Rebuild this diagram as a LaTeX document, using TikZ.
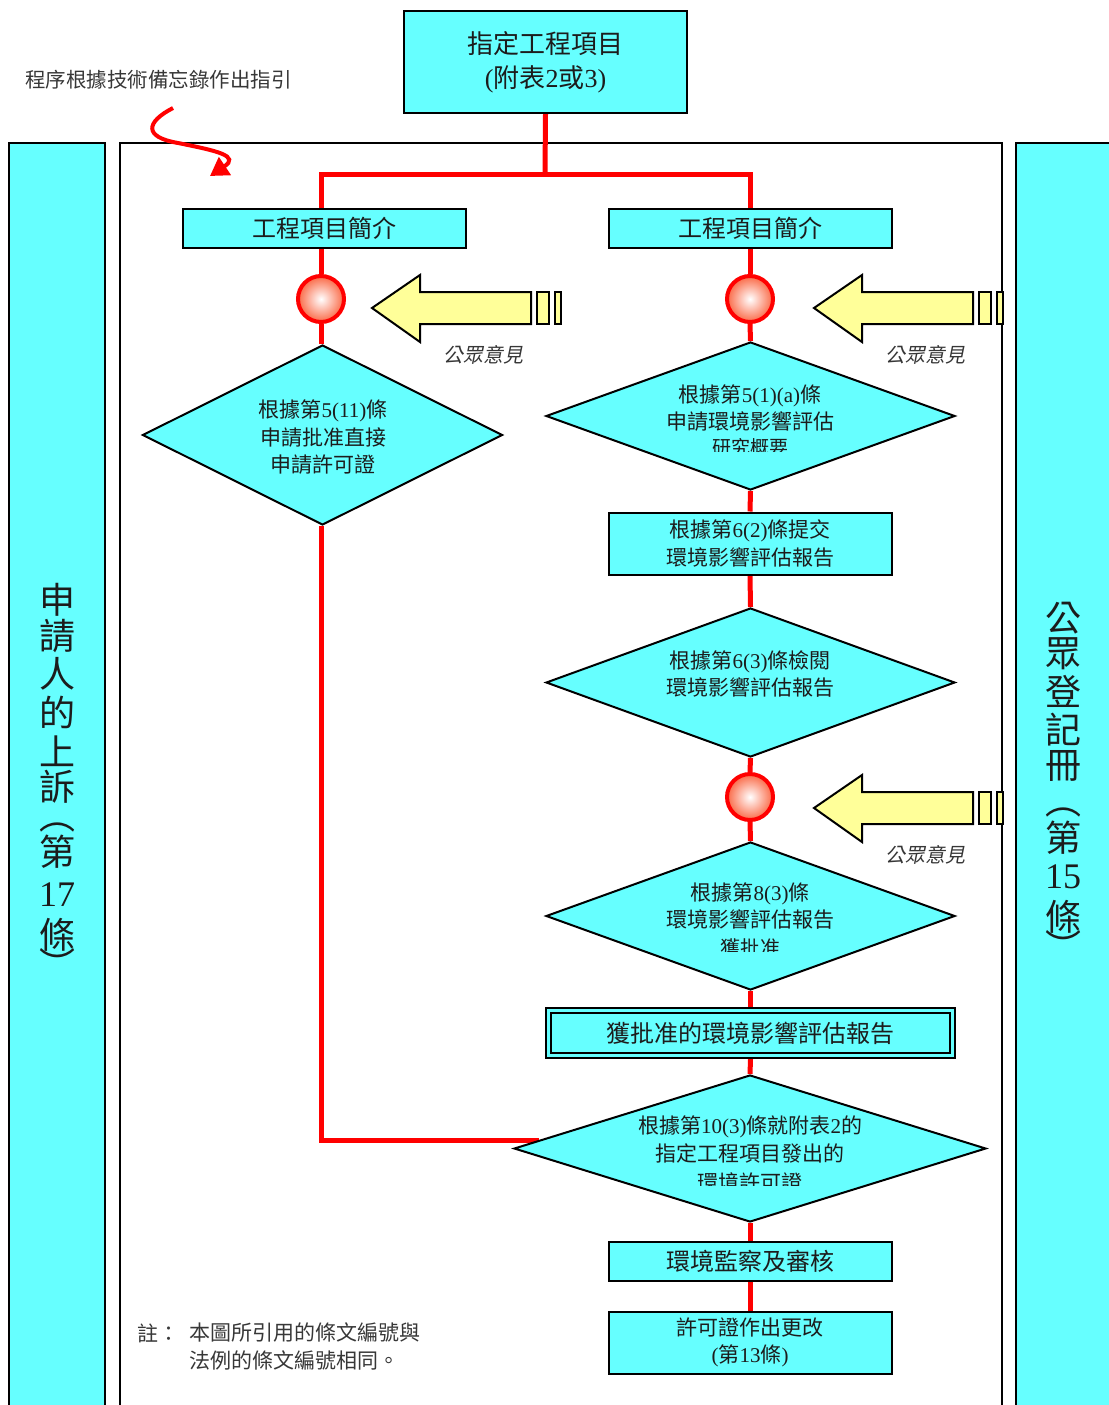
\documentclass[tikz,border=0pt]{standalone}
\usepackage{fontspec}
\usetikzlibrary{shapes.geometric,calc,arrows.meta}
\newfontfamily\cjk{Noto Sans CJK TC}
\newfontfamily\cjkslant[FakeSlant=0.2]{Noto Sans CJK TC}
\newfontfamily\ltnfont{Liberation Serif}
\newcommand\ltn[1]{{\ltnfont #1}}
\newcommand\fsz[2]{\fontsize{#1}{#2}\selectfont}
\definecolor{boxcyan}{RGB}{102,255,255}
\definecolor{arrowyellow}{RGB}{255,255,153}
\definecolor{ink}{RGB}{28,28,28}
\definecolor{softink}{RGB}{55,55,55}
\definecolor{bulbedge}{RGB}{250,105,70}
\pgfdeclarelayer{bg}
\pgfsetlayers{bg,main}
\tikzset{
  box/.style={draw=black, line width=2pt, fill=boxcyan, rectangle, inner sep=0pt,
    text=ink, align=center, font=\cjk\fsz{21}{27.5}},
  dia/.style={draw=black, line width=2pt, fill=boxcyan, diamond, inner sep=0pt},
  bulb/.style={circle, draw=red, line width=4pt, minimum size=46pt, inner sep=0pt,
    shading=radial, inner color=white, outer color=bulbedge},
  flow/.style={draw=red, line width=5pt, line join=miter},
  txt/.style={text=ink, align=center, inner sep=0pt, font=\cjk\fsz{21}{27.5}},
  sidechar/.style={text=ink, inner sep=0pt, font=\cjk\fsz{36}{36}},
  pics/inputarrow/.style={code={
    \draw[fill=arrowyellow, line width=2pt, line join=miter]
      (0,0) -- (48,-33) -- (48,-16) -- (159,-16) -- (159,16) -- (48,16) -- (48,34) -- cycle;
    \draw[fill=arrowyellow, line width=2pt] (165,-16) rectangle (177,16);
    \draw[fill=arrowyellow, line width=2pt] (183,-16) rectangle (189,16);
  }}
}
\begin{document}
\begin{tikzpicture}[x=1pt,y=-1pt]
\useasboundingbox (0,0) rectangle (1108,1405);
\clip (0,0) rectangle (1108,1405);

% side bars and main frame, kept beneath the flow lines
\begin{pgfonlayer}{bg}
  \draw[fill=boxcyan, line width=2pt] (9,143) rectangle (105,1425);
  \draw[fill=boxcyan, line width=2pt] (1016,143) rectangle (1125,1425);
  \draw[fill=white, line width=2.5pt] (120,143) rectangle (1002,1425);
\end{pgfonlayer}

% vertical titles
\foreach \ch/\yy in {申/600,請/636,人/674,的/712,上/751,訴/787,︵/827,第/852,條/935,︶/963}
  \node[sidechar] at (57,\yy) {\ch};
\node[sidechar, font=\ltnfont\fsz{36}{36}] at (57,895) {17};
\foreach \ch/\yy in {公/618,眾/654,登/691,記/730,冊/766,︵/812,第/838,條/917,︶/945}
  \node[sidechar] at (1063,\yy) {\ch};
\node[sidechar, font=\ltnfont\fsz{36}{36}] at (1063,877) {15};

% guidance note and its curled arrow
\node[anchor=west, text=softink, inner sep=0pt, font=\cjk\fsz{20.5}{24}] (guide) at (25,80) {程序根據技術備忘錄作出指引};
\coordinate (curlstart) at (173,108);
\coordinate (curlend) at (210,176);
\draw[red, line width=4pt, -{Triangle[length=18pt,width=21pt]}]
  (curlstart) .. controls (146,122) and (143,137) .. (178,143)
  .. controls (218,151) and (240,156) .. (curlend);

% process nodes
\node[box, minimum width=283, minimum height=102, font=\cjk\fsz{26}{34}] (top) at (545.5,62)
  {指定工程項目\\\ltn{(}附表\ltn{2}或\ltn{3)}};
\node[box, minimum width=283, minimum height=39, font=\cjk\fsz{24}{28}] (b1) at (324,228) {工程項目簡介};
\node[box, minimum width=283, minimum height=39, font=\cjk\fsz{24}{28}] (b2) at (750,228) {工程項目簡介};

\node[bulb] (c1) at (321,299) {};
\node[bulb] (c2) at (750,299) {};

\node[dia, minimum width=360, minimum height=180] (dL) at (322.5,435) {};
\node[txt] at (323,437.5) {根據第\ltn{5(11)}條\\申請批准直接\\申請許可證};

\node[dia, minimum width=409, minimum height=148] (d1) at (750.5,416) {};
\node[txt] at (750,408) {根據第\ltn{5(1)(a)}條\\申請環境影響評估};
\begin{scope}
  \clip (560,430) rectangle (940,451.5);
  \node[txt, font=\cjk\fsz{19}{22}] at (750,447) {研究概要};
\end{scope}

\node[box, minimum width=283, minimum height=62] (b3) at (750,543.5)
  {根據第\ltn{6(2)}條提交\\環境影響評估報告};

\node[dia, minimum width=409, minimum height=149] (d2) at (750.5,682.5) {};
\node[txt] at (750,674) {根據第\ltn{6(3)}條檢閱\\環境影響評估報告};

\node[bulb] (c3) at (750,797) {};

\node[dia, minimum width=409, minimum height=148] (d3) at (750.5,916) {};
\node[txt] at (750,906) {根據第\ltn{8(3)}條\\環境影響評估報告};
\begin{scope}
  \clip (560,930) rectangle (940,951.5);
  \node[txt, font=\cjk\fsz{20}{22}] at (750,947.5) {獲批准};
\end{scope}

\node[box, minimum width=409, minimum height=50, font=\cjk\fsz{24}{28}] (dbl) at (750.5,1033)
  {獲批准的環境影響評估報告};
\draw[line width=2pt] ([shift={(6,6)}]dbl.north west) rectangle ([shift={(-6,-6)}]dbl.south east);

\node[dia, minimum width=472, minimum height=147] (d4) at (750,1148.5) {};
\node[txt] at (750,1139.5) {根據第\ltn{10(3)}條就附表\ltn{2}的\\指定工程項目發出的};
\begin{scope}
  \clip (560,1160) rectangle (940,1185.5);
  \node[txt, font=\cjk\fsz{21}{24}] at (750,1182) {環境許可證};
\end{scope}

\node[box, minimum width=283, minimum height=39, font=\cjk\fsz{24}{28}] (b5) at (750,1261) {環境監察及審核};
\node[box, minimum width=283, minimum height=62] (b6) at (750,1342.5)
  {許可證作出更改\\\ltn{(}第\ltn{13}條\ltn{)}};

% public comment inputs
\pic at (372,308) {inputarrow};
\pic at (814,308) {inputarrow};
\pic at (814,808) {inputarrow};
\node[text=softink, inner sep=0pt, font=\cjkslant\fsz{20}{24}] (pc1) at (483,355) {公眾意見};
\node[text=softink, inner sep=0pt, font=\cjkslant\fsz{20}{24}] (pc2) at (925,355) {公眾意見};
\node[text=softink, inner sep=0pt, font=\cjkslant\fsz{20}{24}] (pc3) at (925,855) {公眾意見};

% footnote
\node[anchor=west, text=softink, inner sep=0pt, font=\cjk\fsz{21}{24}] (notehead) at (137,1333) {註：};
\node[anchor=north west, text=softink, inner sep=0pt, align=left, font=\cjk\fsz{21}{28}] (notebody) at (189,1322)
  {本圖所引用的條文編號與\\法例的條文編號相同。};

% red flow lines
\begin{pgfonlayer}{bg}
  \coordinate (split) at (545,174);
  \draw[flow] (top.south) -- (split);
  \draw[flow] (c1 |- b1.north) -- (c1 |- split) -- (b2.north |- split) -- (b2.north);
  \draw[flow] (c1 |- b1.south) -- (c1.north);
  \draw[flow] (c1.south) -- (c1 |- dL.north);
  \coordinate (d4entry) at ($(d4.west)!0.11!(d4.north)$);
  \draw[flow] (c1 |- dL.south) |- (d4entry);
  \draw[flow] (b2.south) -- (c2.north);
  \draw[flow] (c2.south) -- (d1.north);
  \draw[flow] (d1.south) -- (b3.north);
  \draw[flow] (b3.south) -- (d2.north);
  \draw[flow] (d2.south) -- (c3.north);
  \draw[flow] (c3.south) -- (d3.north);
  \draw[flow] (d3.south) -- (dbl.north);
  \draw[flow] (dbl.south) -- (d4.north);
  \draw[flow] (d4.south) -- (b5.north);
  \draw[flow] (b5.south) -- (b6.north);
\end{pgfonlayer}
\end{tikzpicture}
\end{document}
